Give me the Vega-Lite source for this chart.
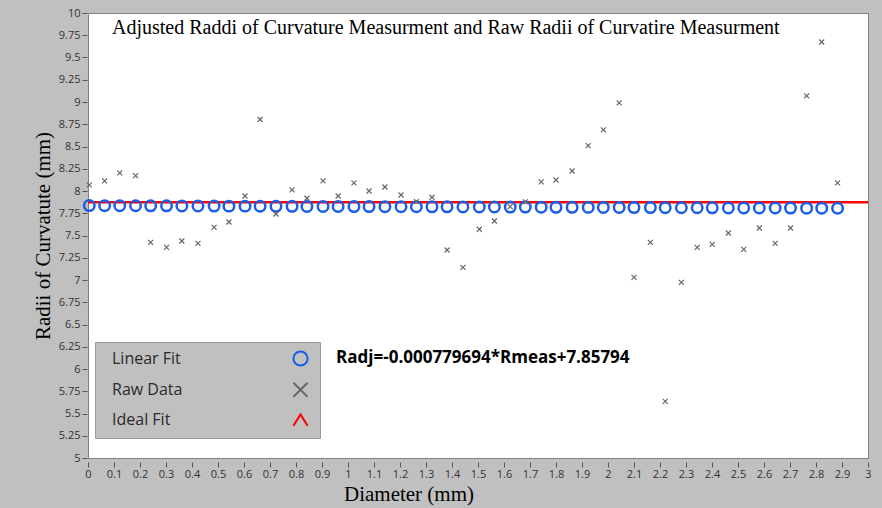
{
  "$schema": "https://vega.github.io/schema/vega-lite/v6.json",
  "width": 780,
  "height": 445,
  "autosize": {"type": "none"},
  "padding": {"left": 88, "top": 13, "right": 14, "bottom": 50},
  "background": "#c0c0c0",
  "config": {
    "view": {"fill": "#ffffff", "stroke": "#808080", "strokeWidth": 1},
    "axis": {
      "grid": false,
      "domain": false,
      "tickSize": 5,
      "tickColor": "#555555",
      "labelFont": "Open Sans",
      "labelFontSize": 11,
      "labelColor": "#333333",
      "labelOverlap": false,
      "labelFlush": false,
      "titleFont": "Liberation Serif",
      "titleFontSize": 21,
      "titleFontWeight": "normal",
      "titleColor": "#000000",
      "titleAlign": "center",
      "titleBaseline": "alphabetic"
    },
    "axisX": {"offset": 4, "labelPadding": 1, "titleX": 320.5, "titleY": 38.7},
    "axisY": {"offset": 1, "labelPadding": 2, "titleAngle": 270, "titleX": -38, "titleY": 222.5},
    "legend": {
      "orient": "none",
      "legendX": 7,
      "legendY": 329,
      "fillColor": "#c0c0c0",
      "strokeColor": "#9a9a9a",
      "padding": 8,
      "symbolSize": 200,
      "symbolStrokeWidth": 2,
      "symbolOffset": 189,
      "labelOffset": -197,
      "rowPadding": 8.3,
      "labelFont": "Open Sans",
      "labelFontSize": 16,
      "labelColor": "#2a2a2a"
    }
  },
  "title": {
    "text": "Adjusted Raddi of Curvature Measurment and Raw Radii of Curvatire Measurment",
    "anchor": "start",
    "frame": "group",
    "offset": 0,
    "dx": 24,
    "dy": 47,
    "baseline": "alphabetic",
    "font": "Liberation Serif",
    "fontSize": 20,
    "fontWeight": "normal",
    "color": "#000000"
  },
  "data": {
    "values": [
      {"x": 0.005, "Linear Fit": 7.836, "Raw Data": 8.068},
      {"x": 0.064, "Linear Fit": 7.835, "Raw Data": 8.113},
      {"x": 0.122, "Linear Fit": 7.835, "Raw Data": 8.203},
      {"x": 0.183, "Linear Fit": 7.834, "Raw Data": 8.173},
      {"x": 0.241, "Linear Fit": 7.833, "Raw Data": 7.423},
      {"x": 0.302, "Linear Fit": 7.833, "Raw Data": 7.367},
      {"x": 0.361, "Linear Fit": 7.832, "Raw Data": 7.438},
      {"x": 0.423, "Linear Fit": 7.832, "Raw Data": 7.412},
      {"x": 0.485, "Linear Fit": 7.831, "Raw Data": 7.592},
      {"x": 0.542, "Linear Fit": 7.830, "Raw Data": 7.652},
      {"x": 0.604, "Linear Fit": 7.830, "Raw Data": 7.944},
      {"x": 0.662, "Linear Fit": 7.829, "Raw Data": 8.803},
      {"x": 0.723, "Linear Fit": 7.828, "Raw Data": 7.742},
      {"x": 0.785, "Linear Fit": 7.828, "Raw Data": 8.012},
      {"x": 0.842, "Linear Fit": 7.827, "Raw Data": 7.918},
      {"x": 0.904, "Linear Fit": 7.827, "Raw Data": 8.113},
      {"x": 0.962, "Linear Fit": 7.826, "Raw Data": 7.944},
      {"x": 1.023, "Linear Fit": 7.825, "Raw Data": 8.091},
      {"x": 1.081, "Linear Fit": 7.825, "Raw Data": 8.0},
      {"x": 1.142, "Linear Fit": 7.824, "Raw Data": 8.045},
      {"x": 1.204, "Linear Fit": 7.823, "Raw Data": 7.955},
      {"x": 1.263, "Linear Fit": 7.823, "Raw Data": 7.880},
      {"x": 1.323, "Linear Fit": 7.822, "Raw Data": 7.930},
      {"x": 1.381, "Linear Fit": 7.822, "Raw Data": 7.337},
      {"x": 1.442, "Linear Fit": 7.821, "Raw Data": 7.142},
      {"x": 1.505, "Linear Fit": 7.820, "Raw Data": 7.570},
      {"x": 1.563, "Linear Fit": 7.820, "Raw Data": 7.663},
      {"x": 1.624, "Linear Fit": 7.819, "Raw Data": 7.824},
      {"x": 1.682, "Linear Fit": 7.819, "Raw Data": 7.877},
      {"x": 1.743, "Linear Fit": 7.818, "Raw Data": 8.102},
      {"x": 1.800, "Linear Fit": 7.817, "Raw Data": 8.124},
      {"x": 1.862, "Linear Fit": 7.817, "Raw Data": 8.225},
      {"x": 1.924, "Linear Fit": 7.816, "Raw Data": 8.510},
      {"x": 1.982, "Linear Fit": 7.815, "Raw Data": 8.687},
      {"x": 2.043, "Linear Fit": 7.815, "Raw Data": 8.991},
      {"x": 2.100, "Linear Fit": 7.814, "Raw Data": 7.029},
      {"x": 2.163, "Linear Fit": 7.814, "Raw Data": 7.423},
      {"x": 2.220, "Linear Fit": 7.813, "Raw Data": 5.637},
      {"x": 2.282, "Linear Fit": 7.812, "Raw Data": 6.973},
      {"x": 2.343, "Linear Fit": 7.812, "Raw Data": 7.367},
      {"x": 2.401, "Linear Fit": 7.811, "Raw Data": 7.401},
      {"x": 2.463, "Linear Fit": 7.810, "Raw Data": 7.528},
      {"x": 2.522, "Linear Fit": 7.810, "Raw Data": 7.344},
      {"x": 2.582, "Linear Fit": 7.809, "Raw Data": 7.584},
      {"x": 2.643, "Linear Fit": 7.809, "Raw Data": 7.412},
      {"x": 2.702, "Linear Fit": 7.808, "Raw Data": 7.584},
      {"x": 2.764, "Linear Fit": 7.807, "Raw Data": 9.069},
      {"x": 2.822, "Linear Fit": 7.807, "Raw Data": 9.674},
      {"x": 2.883, "Linear Fit": 7.806, "Raw Data": 8.091}
    ]
  },
  "layer": [
    {
      "data": {"values": [{"x": 0, "y": 7.873, "series": "Ideal Fit"}, {"x": 3, "y": 7.873, "series": "Ideal Fit"}]},
      "mark": {"type": "line", "strokeWidth": 2.5},
      "encoding": {
        "x": {"field": "x", "type": "quantitative", "scale": {"domain": [0, 3], "nice": false, "zero": false},
          "axis": {"title": "Diameter (mm)", "format": ".3~g", "values": [0, 0.1, 0.2, 0.3, 0.4, 0.5, 0.6, 0.7, 0.8, 0.9, 1, 1.1, 1.2, 1.3, 1.4, 1.5, 1.6, 1.7, 1.8, 1.9, 2, 2.1, 2.2, 2.3, 2.4, 2.5, 2.6, 2.7, 2.8, 2.9, 3]}},
        "y": {"field": "y", "type": "quantitative", "scale": {"domain": [5, 10], "nice": false, "zero": false},
          "axis": {"title": "Radii of Curvatute (mm)", "format": ".4~g", "values": [5, 5.25, 5.5, 5.75, 6, 6.25, 6.5, 6.75, 7, 7.25, 7.5, 7.75, 8, 8.25, 8.5, 8.75, 9, 9.25, 9.5, 9.75, 10]}},
        "color": {"field": "series", "type": "nominal", "title": null,
          "scale": {"domain": ["Linear Fit", "Raw Data", "Ideal Fit"], "range": ["#1a5ee8", "#666666", "#ff0000"]},
          "legend": {"encode": {"symbols": {"update": {"fill": {"value": "transparent"}, "strokeWidth": {"value": 2}}}}}}
      }
    },
    {
      "transform": [{"fold": ["Linear Fit"], "as": ["series", "y"]}],
      "mark": {"type": "point", "filled": false, "size": 110, "strokeWidth": 2.5, "opacity": 1},
      "encoding": {
        "x": {"field": "x", "type": "quantitative", "scale": {"domain": [0, 3], "nice": false, "zero": false},
          "axis": {"title": "Diameter (mm)", "format": ".3~g", "values": [0, 0.1, 0.2, 0.3, 0.4, 0.5, 0.6, 0.7, 0.8, 0.9, 1, 1.1, 1.2, 1.3, 1.4, 1.5, 1.6, 1.7, 1.8, 1.9, 2, 2.1, 2.2, 2.3, 2.4, 2.5, 2.6, 2.7, 2.8, 2.9, 3]}},
        "y": {"field": "y", "type": "quantitative", "scale": {"domain": [5, 10], "nice": false, "zero": false},
          "axis": {"title": "Radii of Curvatute (mm)", "format": ".4~g", "values": [5, 5.25, 5.5, 5.75, 6, 6.25, 6.5, 6.75, 7, 7.25, 7.5, 7.75, 8, 8.25, 8.5, 8.75, 9, 9.25, 9.5, 9.75, 10]}},
        "color": {"field": "series", "type": "nominal", "title": null,
          "scale": {"domain": ["Linear Fit", "Raw Data", "Ideal Fit"], "range": ["#1a5ee8", "#666666", "#ff0000"]}},
        "shape": {"field": "series", "type": "nominal", "title": null,
          "scale": {"domain": ["Linear Fit", "Raw Data", "Ideal Fit"], "range": ["circle", "M-1,-1L1,1M-1,1L1,-1", "M-1,0.8L0,-0.8L1,0.8"]}}
      }
    },
    {
      "transform": [{"fold": ["Raw Data"], "as": ["series", "y"]}],
      "mark": {"type": "point", "filled": false, "size": 25, "strokeWidth": 1.2, "opacity": 1},
      "encoding": {
        "x": {"field": "x", "type": "quantitative", "scale": {"domain": [0, 3], "nice": false, "zero": false},
          "axis": {"title": "Diameter (mm)", "format": ".3~g", "values": [0, 0.1, 0.2, 0.3, 0.4, 0.5, 0.6, 0.7, 0.8, 0.9, 1, 1.1, 1.2, 1.3, 1.4, 1.5, 1.6, 1.7, 1.8, 1.9, 2, 2.1, 2.2, 2.3, 2.4, 2.5, 2.6, 2.7, 2.8, 2.9, 3]}},
        "y": {"field": "y", "type": "quantitative", "scale": {"domain": [5, 10], "nice": false, "zero": false},
          "axis": {"title": "Radii of Curvatute (mm)", "format": ".4~g", "values": [5, 5.25, 5.5, 5.75, 6, 6.25, 6.5, 6.75, 7, 7.25, 7.5, 7.75, 8, 8.25, 8.5, 8.75, 9, 9.25, 9.5, 9.75, 10]}},
        "color": {"field": "series", "type": "nominal", "title": null,
          "scale": {"domain": ["Linear Fit", "Raw Data", "Ideal Fit"], "range": ["#1a5ee8", "#666666", "#ff0000"]}},
        "shape": {"field": "series", "type": "nominal", "title": null,
          "scale": {"domain": ["Linear Fit", "Raw Data", "Ideal Fit"], "range": ["circle", "M-1,-1L1,1M-1,1L1,-1", "M-1,0.8L0,-0.8L1,0.8"]}}
      }
    },
    {
      "data": {"values": [{"label": "Radj=-0.000779694*Rmeas+7.85794"}]},
      "mark": {"type": "text", "align": "left", "baseline": "alphabetic", "font": "Open Sans", "fontSize": 17, "fontWeight": "bold", "color": "#000000"},
      "encoding": {
        "x": {"datum": 0.954, "type": "quantitative",
          "axis": {"title": "Diameter (mm)", "format": ".3~g", "values": [0, 0.1, 0.2, 0.3, 0.4, 0.5, 0.6, 0.7, 0.8, 0.9, 1, 1.1, 1.2, 1.3, 1.4, 1.5, 1.6, 1.7, 1.8, 1.9, 2, 2.1, 2.2, 2.3, 2.4, 2.5, 2.6, 2.7, 2.8, 2.9, 3]}},
        "y": {"datum": 6.073, "type": "quantitative",
          "axis": {"title": "Radii of Curvatute (mm)", "format": ".4~g", "values": [5, 5.25, 5.5, 5.75, 6, 6.25, 6.5, 6.75, 7, 7.25, 7.5, 7.75, 8, 8.25, 8.5, 8.75, 9, 9.25, 9.5, 9.75, 10]}},
        "text": {"field": "label"}
      }
    }
  ]
}
